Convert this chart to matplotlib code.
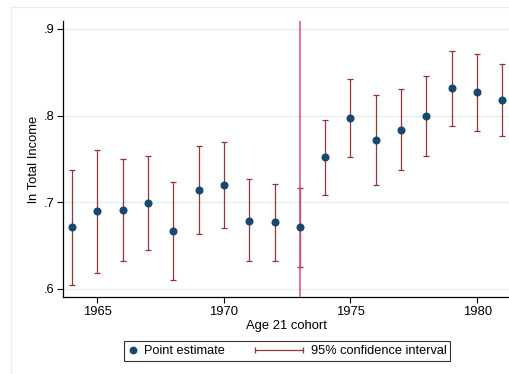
#!/usr/bin/env python3

import matplotlib.pyplot as plt
from matplotlib.lines import Line2D
from matplotlib.patches import Rectangle
from matplotlib.legend_handler import HandlerBase

plt.rcParams["font.family"] = ["Liberation Sans", "DejaVu Sans"]

# Data
cohorts = list(range(1964, 1982))
estimate = [0.672, 0.690, 0.691, 0.699, 0.667, 0.714, 0.720, 0.679, 0.677,
            0.671, 0.752, 0.797, 0.772, 0.784, 0.800, 0.832, 0.827, 0.818]
ci_low = [0.605, 0.619, 0.632, 0.645, 0.610, 0.664, 0.670, 0.632, 0.632,
          0.625, 0.708, 0.752, 0.720, 0.737, 0.754, 0.788, 0.782, 0.776]
ci_high = [0.737, 0.760, 0.750, 0.753, 0.724, 0.765, 0.770, 0.727, 0.721,
           0.717, 0.795, 0.842, 0.824, 0.831, 0.846, 0.875, 0.871, 0.860]
break_year = 1973
y_ticks = [0.6, 0.7, 0.8, 0.9]
y_tick_labels = [".6", ".7", ".8", ".9"]
x_ticks = [1965, 1970, 1975, 1980]

NAVY = "#1a476f"
CRANBERRY = "#90353b"
BREAK_COLOR = "#d84f74"
GRID = "#e6eeee"

W, H = 509, 374


class DotHandler(HandlerBase):
    def create_artists(self, legend, orig_handle, xdescent, ydescent,
                       width, height, fontsize, trans):
        y = height / 2 - ydescent
        dot = Line2D([0.38 * fontsize - xdescent], [y], linestyle="none",
                     marker="o", markersize=4.6, color=NAVY)
        dot.set_transform(trans)
        return [dot]


class CIHandler(HandlerBase):
    def create_artists(self, legend, orig_handle, xdescent, ydescent,
                       width, height, fontsize, trans):
        y = height / 2 - ydescent
        x1 = 0.65 * fontsize - xdescent
        x0 = -3.13 * fontsize - xdescent
        ln = Line2D([x0, x1], [y, y], color=CRANBERRY, linewidth=0.9,
                    marker="|", markersize=4.8, markeredgewidth=0.9)
        ln.set_transform(trans)
        return [ln]


fig = plt.figure(figsize=(W / 100, H / 100), dpi=100)

# light outer frame (graph region), cropped on right and bottom
fig.add_artist(Rectangle((10.5 / W, -0.05), 1.2, (H - 7) / H + 0.05,
                         transform=fig.transFigure, fill=False,
                         edgecolor="#e8ecec", linewidth=0.8))

left, right, top, bottom = 63.3, 509, 21, 297.3
ax = fig.add_axes([left / W, 1 - bottom / H, (right - left) / W, (bottom - top) / H])

yerr = [[e - lo for e, lo in zip(estimate, ci_low)],
        [hi - e for e, hi in zip(estimate, ci_high)]]
ax.errorbar(cohorts, estimate, yerr=yerr, fmt="none", ecolor=CRANBERRY,
            elinewidth=0.9, capsize=2.1, capthick=0.9, zorder=2)
ax.plot(cohorts, estimate, linestyle="none", marker="o", markersize=4.8,
        color=NAVY, zorder=4)
ax.axvline(break_year, color=BREAK_COLOR, linewidth=1.1, zorder=3)

ax.set_xlim(1963.66, 1981.26)
ax.set_ylim(0.5904, 0.9092)
ax.set_yticks(y_ticks)
ax.set_yticklabels(y_tick_labels)
ax.set_xticks(x_ticks)
ax.yaxis.grid(True, color=GRID, linewidth=1.0)
ax.set_axisbelow(True)

for side in ["top", "right"]:
    ax.spines[side].set_visible(False)
for side in ["left", "bottom"]:
    ax.spines[side].set_linewidth(0.9)
    ax.spines[side].set_color("black")
ax.tick_params(axis="both", direction="out", length=4.5, width=0.8,
               labelsize=9.4, pad=1.5, colors="black")

ax.set_xlabel("Age 21 cohort", fontsize=9.4, labelpad=2)
ax.set_ylabel("ln Total Income", fontsize=9.4, labelpad=3)

point_handle = Line2D([], [], color=NAVY)
ci_handle = Line2D([], [], color=CRANBERRY)
leg = fig.legend([point_handle, ci_handle],
                 ["Point estimate", "95% confidence interval"],
                 handler_map={point_handle: DotHandler(), ci_handle: CIHandler()},
                 loc="center left", bbox_to_anchor=(124 / W, 1 - 351 / H),
                 ncol=2, fontsize=9.2, frameon=True, fancybox=False,
                 borderpad=0.3, handlelength=0.9, handletextpad=0.35,
                 columnspacing=5.48, borderaxespad=0)
leg.get_frame().set_edgecolor("black")
leg.get_frame().set_linewidth(0.8)

fig.savefig("out.png", dpi=100)
